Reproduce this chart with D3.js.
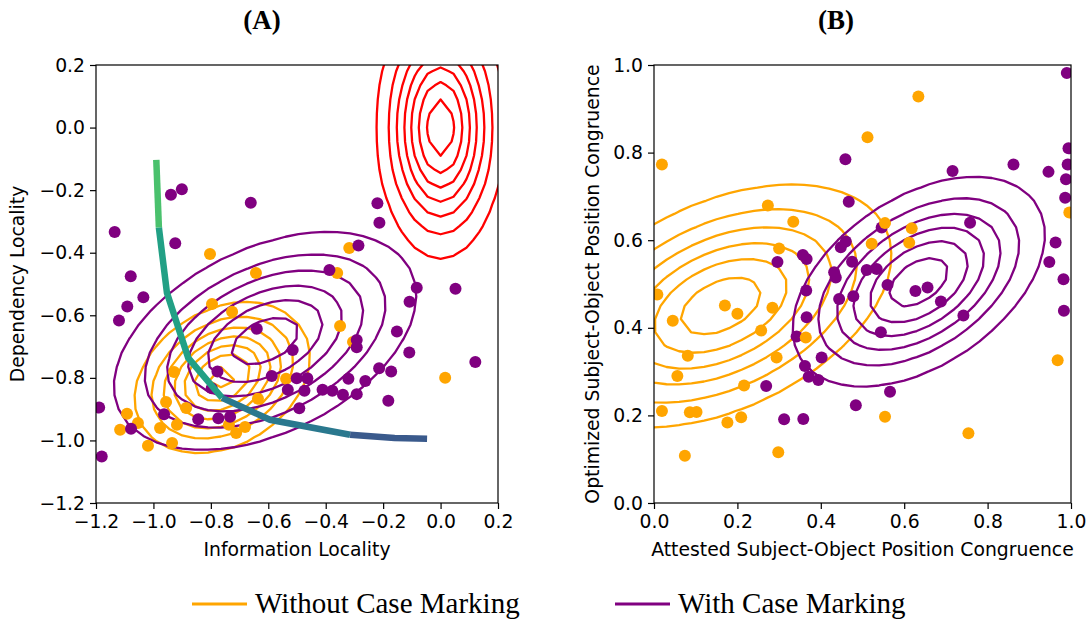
<!DOCTYPE html>
<html>
<head>
<meta charset="utf-8">
<script src="https://cdn.jsdelivr.net/npm/d3@7"></script>
<style>
  body { margin: 0; background: #fff; }
  svg { display: block; }
</style>
</head>
<body>
<div id="chart"></div>
<script>
const WIDTH = 1092
const HEIGHT = 621
const ORANGE = '#FFA500'
const PURPLE = '#800080'
const RED = '#FF0000'
const DOT_R = 6
const TICK_FONT = 18.8
const LABEL_FONT = 18.8

// ---- panel A data ----
const aTicks = [-1.2, -1.0, -0.8, -0.6, -0.4, -0.2, 0.0, 0.2]
const aOrangeX = [-0.803, -0.643, -0.318, -0.360, -0.796, -0.726, -0.350, -0.305, 0.016, -0.928, -0.538, -0.956, -0.886, -1.092, -1.054, -1.116, -0.977, -0.918, -1.019, -0.935, -0.712, -0.681, -0.636, -0.737]
const aOrangeY = [-0.404, -0.465, -0.385, -0.465, -0.564, -0.589, -0.634, -0.685, -0.800, -0.781, -0.803, -0.877, -0.896, -0.915, -0.944, -0.966, -0.960, -0.950, -1.017, -1.008, -0.976, -0.957, -0.867, -0.950]
const aPurpleX = [-0.901, -0.939, -0.661, -0.220, -0.213, -1.135, -0.924, -0.286, -1.079, -0.387, -0.083, 0.052, -1.035, -1.091, -0.108, -1.120, -0.640, -0.152, -0.292, -0.292, -0.515, -0.109, 0.121, -0.214, -0.172, -0.777, -0.588, -0.501, -0.464, -0.321, -0.262, -0.797, -0.532, -0.474, -0.411, -0.377, -0.340, -0.292, -0.182, -1.189, -0.492, -0.963, -0.844, -0.774, -0.733, -1.078, -1.180]
const aPurpleY = [-0.197, -0.215, -0.240, -0.242, -0.304, -0.334, -0.370, -0.377, -0.475, -0.455, -0.512, -0.515, -0.542, -0.572, -0.557, -0.617, -0.643, -0.652, -0.679, -0.702, -0.711, -0.719, -0.749, -0.769, -0.780, -0.780, -0.794, -0.801, -0.801, -0.803, -0.810, -0.833, -0.838, -0.841, -0.838, -0.841, -0.854, -0.852, -0.873, -0.895, -0.897, -0.916, -0.932, -0.929, -0.924, -0.963, -1.051]
// gaussian contours: [meanX, meanY, sdX, sdY, rho], levels as fraction of peak
const aOrangeGauss = [-0.76, -0.80, 0.152, 0.120, 0.28]
const aOrangeLevels = [0.136, 0.272, 0.408, 0.544, 0.680, 0.816, 0.952]
const aPurpleGauss = [-0.611, -0.682, 0.270, 0.178, 0.42]
const aPurpleLevels = [0.15, 0.30, 0.45, 0.61, 0.76, 0.91]
const aRedGauss = [0.0, 0.0, 0.110, 0.207, 0.0]
const aRedLevels = [0.13, 0.26, 0.39, 0.52, 0.65, 0.78, 0.91]
// frontier curve, split into coloured pieces
const frontierX = [-0.990, -0.981, -0.953, -0.879, -0.761, -0.594, -0.315, -0.160, -0.047]
const frontierY = [-0.103, -0.320, -0.528, -0.736, -0.864, -0.934, -0.982, -0.992, -0.995]
const frontierPieces = [[0, 1], [1, 4], [4, 6], [6, 8]]
const frontierColors = ['#4ac16d', '#22a085', '#2a788e', '#3a5a8c']

// ---- panel B data ----
const bTicks = [0.0, 0.2, 0.4, 0.6, 0.8, 1.0]
const bOrangeX = [0.019, 0.634, 0.512, 0.273, 0.334, 0.300, 0.554, 0.618, 0.522, 0.612, 0.996, 0.008, 0.170, 0.200, 0.284, 0.045, 0.257, 0.364, 0.081, 0.294, 0.056, 0.216, 0.019, 0.086, 0.102, 0.176, 0.209, 0.074, 0.298, 0.554, 0.754, 0.968]
const bOrangeY = [0.773, 0.928, 0.835, 0.679, 0.642, 0.581, 0.639, 0.627, 0.592, 0.594, 0.663, 0.476, 0.451, 0.432, 0.446, 0.416, 0.394, 0.378, 0.336, 0.332, 0.290, 0.268, 0.210, 0.207, 0.208, 0.184, 0.196, 0.108, 0.116, 0.197, 0.159, 0.326]
const bPurpleX = [0.990, 0.459, 0.862, 0.716, 0.946, 0.994, 0.992, 0.988, 0.986, 0.467, 0.758, 0.546, 0.460, 0.448, 0.357, 0.366, 0.296, 0.475, 0.510, 0.534, 0.432, 0.436, 0.963, 0.948, 0.560, 0.656, 0.627, 0.982, 0.365, 0.444, 0.478, 0.688, 0.742, 0.366, 0.983, 0.544, 0.342, 0.402, 0.362, 0.371, 0.394, 0.269, 0.566, 0.484, 0.312, 0.358]
const bPurpleY = [0.982, 0.785, 0.773, 0.758, 0.756, 0.810, 0.773, 0.739, 0.697, 0.688, 0.640, 0.629, 0.597, 0.584, 0.566, 0.557, 0.550, 0.551, 0.532, 0.534, 0.527, 0.515, 0.595, 0.550, 0.498, 0.492, 0.484, 0.511, 0.485, 0.466, 0.472, 0.460, 0.428, 0.424, 0.439, 0.390, 0.380, 0.332, 0.313, 0.288, 0.281, 0.267, 0.254, 0.223, 0.191, 0.192]
const bOrangeGauss = [0.16, 0.45, 0.210, 0.142, 0.42]
const bOrangeLevels = [0.15, 0.30, 0.45, 0.60, 0.75, 0.90]
const bPurpleGauss = [0.635, 0.505, 0.155, 0.1227, 0.45]
const bPurpleLevels = [0.15, 0.30, 0.45, 0.60, 0.75, 0.90]

const legendLabels = ['Without Case Marking', 'With Case Marking']
const legendColors = [ORANGE, PURPLE]

var svg = d3.select('#chart').append('svg')
  .attr('width', WIDTH)
  .attr('height', HEIGHT)
  .style('font-family', 'DejaVu Sans, sans-serif')

/**
 * density of a correlated 2D gaussian on a grid, peak = 1
 */
function gaussGrid (g, x0, y0, step, nx, ny) {
  const [mx, my, sx, sy, rho] = g
  const values = new Array(nx * ny)
  for (let j = 0; j < ny; j++) {
    for (let i = 0; i < nx; i++) {
      const zx = (x0 + i * step - mx) / sx
      const zy = (y0 + j * step - my) / sy
      values[i + j * nx] = Math.exp(-0.5 * (zx * zx - 2 * rho * zx * zy + zy * zy) / (1 - rho * rho))
    }
  }
  return values
}

function drawPanel (cfg) {
  var x = d3.scaleLinear().domain(cfg.domain).range([cfg.left, cfg.right])
  var y = d3.scaleLinear().domain(cfg.domain).range([cfg.bottom, cfg.top])
  var g = svg.append('g')

  var clipId = 'clip-' + cfg.name
  g.append('clipPath').attr('id', clipId)
    .append('rect')
    .attr('x', cfg.left).attr('y', cfg.top)
    .attr('width', cfg.right - cfg.left).attr('height', cfg.bottom - cfg.top)
  var plot = g.append('g').attr('clip-path', 'url(#' + clipId + ')')

  // contours
  var step = cfg.gridStep
  var x0 = cfg.domain[0] - 0.6
  var y0 = cfg.domain[0] - 0.6
  var n = Math.ceil((cfg.domain[1] - cfg.domain[0] + 1.2) / step) + 1
  var proj = d3.geoTransform({
    point: function (gx, gy) {
      this.stream.point(x(x0 + (gx - 0.5) * step), y(y0 + (gy - 0.5) * step))
    }
  })
  var path = d3.geoPath(proj)
  cfg.contours.forEach(c => {
    var values = gaussGrid(c.params, x0, y0, step, n, n)
    var sets = d3.contours().size([n, n]).thresholds(c.levels)(values)
    plot.append('g').selectAll('path')
      .data(sets)
      .join('path')
      .attr('d', path)
      .attr('fill', 'none')
      .attr('stroke', c.color)
      .attr('stroke-width', 2.3)
      .attr('stroke-linejoin', 'round')
  })

  // scatter
  cfg.dots.forEach(d => {
    plot.append('g').selectAll('circle')
      .data(d3.range(d.x.length))
      .join('circle')
      .attr('cx', i => x(d.x[i]))
      .attr('cy', i => y(d.y[i]))
      .attr('r', DOT_R)
      .attr('fill', d.color)
  })

  if (cfg.after) cfg.after(plot, x, y)

  // axes
  var fmt = d3.format('.1f')
  var xAxis = g.append('g')
    .attr('transform', 'translate(0,' + cfg.bottom + ')')
    .call(d3.axisBottom(x).tickValues(cfg.ticks).tickFormat(fmt).tickSize(6).tickPadding(6))
  var yAxis = g.append('g')
    .attr('transform', 'translate(' + cfg.left + ',0)')
    .call(d3.axisLeft(y).tickValues(cfg.ticks).tickFormat(fmt).tickSize(6).tickPadding(5))
  ;[xAxis, yAxis].forEach(a => {
    a.select('.domain').remove()
    a.selectAll('line').attr('stroke', '#000').attr('stroke-width', 1.2)
    a.selectAll('text')
      .attr('fill', '#000')
      .style('font-size', TICK_FONT + 'px')
      .style('font-family', 'DejaVu Sans, sans-serif')
  })

  g.append('rect')
    .attr('x', cfg.left).attr('y', cfg.top)
    .attr('width', cfg.right - cfg.left).attr('height', cfg.bottom - cfg.top)
    .attr('fill', 'none')
    .attr('stroke', '#000')
    .attr('stroke-width', 1.2)

  // labels
  g.append('text')
    .attr('x', (cfg.left + cfg.right) / 2)
    .attr('y', 556)
    .attr('text-anchor', 'middle')
    .style('font-size', LABEL_FONT + 'px')
    .text(cfg.xLabel)
  g.append('text')
    .attr('transform', 'translate(' + cfg.yLabelX + ',' + (cfg.top + cfg.bottom) / 2 + ') rotate(-90)')
    .attr('text-anchor', 'middle')
    .style('font-size', LABEL_FONT + 'px')
    .text(cfg.yLabel)
  g.append('text')
    .attr('x', cfg.titleX)
    .attr('y', 29)
    .attr('text-anchor', 'middle')
    .style('font-family', 'Liberation Serif, serif')
    .style('font-weight', 'bold')
    .style('font-size', '27px')
    .text(cfg.title)
}

drawPanel({
  name: 'a',
  left: 96, right: 498, top: 65, bottom: 503,
  domain: [-1.2, 0.2],
  ticks: aTicks,
  gridStep: 0.045,
  contours: [
    { params: aOrangeGauss, levels: aOrangeLevels, color: ORANGE },
    { params: aPurpleGauss, levels: aPurpleLevels, color: PURPLE },
    { params: aRedGauss, levels: aRedLevels, color: RED }
  ],
  dots: [
    { x: aOrangeX, y: aOrangeY, color: ORANGE },
    { x: aPurpleX, y: aPurpleY, color: PURPLE }
  ],
  after: function (plot, x, y) {
    var line = d3.line().x(i => x(frontierX[i])).y(i => y(frontierY[i]))
    frontierPieces.forEach((p, k) => {
      plot.append('path')
        .attr('d', line(d3.range(p[0], p[1] + 1)))
        .attr('fill', 'none')
        .attr('stroke', frontierColors[k])
        .attr('stroke-width', 6.5)
    })
  },
  xLabel: 'Information Locality',
  yLabel: 'Dependency Locality',
  yLabelX: 24,
  title: '(A)',
  titleX: 262
})

drawPanel({
  name: 'b',
  left: 654, right: 1071, top: 65, bottom: 503,
  domain: [0, 1],
  ticks: bTicks,
  gridStep: 0.03,
  contours: [
    { params: bOrangeGauss, levels: bOrangeLevels, color: ORANGE },
    { params: bPurpleGauss, levels: bPurpleLevels, color: PURPLE }
  ],
  dots: [
    { x: bPurpleX, y: bPurpleY, color: PURPLE },
    { x: bOrangeX, y: bOrangeY, color: ORANGE }
  ],
  xLabel: 'Attested Subject-Object Position Congruence',
  yLabel: 'Optimized Subject-Object Position Congruence',
  yLabelX: 599,
  title: '(B)',
  titleX: 836
})

// legend
var legendX = [192, 615]
var legend = svg.append('g')
legendLabels.forEach((label, i) => {
  legend.append('line')
    .attr('x1', legendX[i]).attr('x2', legendX[i] + 55)
    .attr('y1', 604).attr('y2', 604)
    .attr('stroke', legendColors[i])
    .attr('stroke-width', 3)
  legend.append('text')
    .attr('x', legendX[i] + 63)
    .attr('y', 613)
    .style('font-family', 'Liberation Serif, serif')
    .style('font-size', '29px')
    .text(label)
})
</script>
</body>
</html>
